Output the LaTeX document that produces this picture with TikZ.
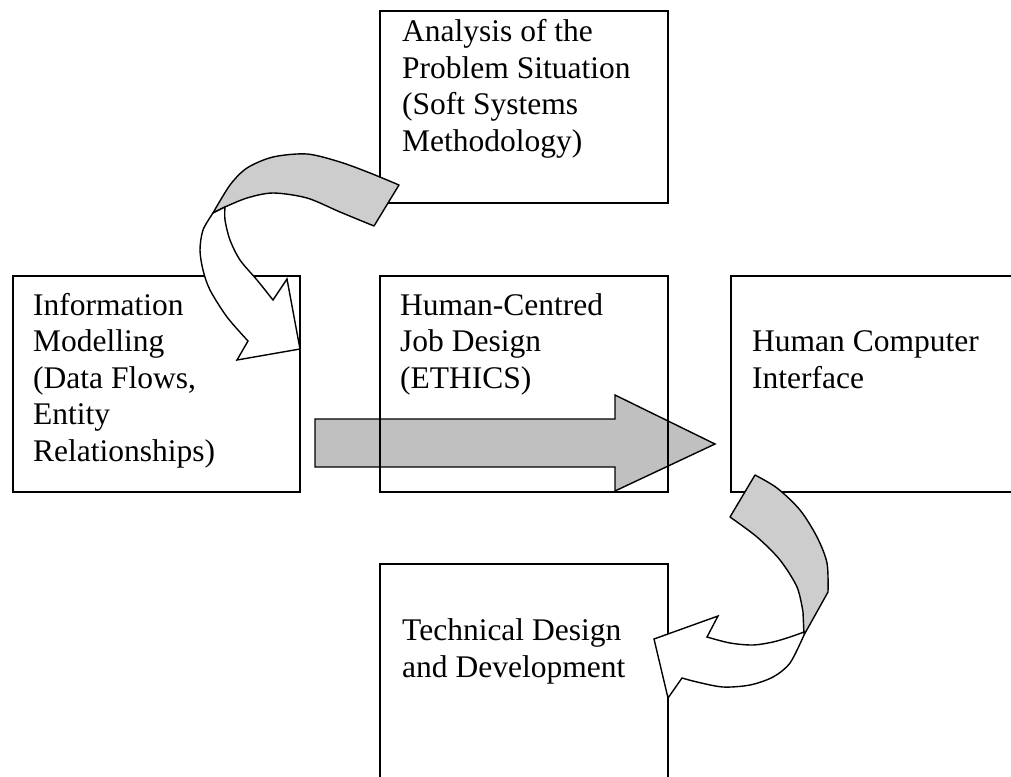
\documentclass[tikz,border=0pt]{standalone}
\usepackage{fontspec}
\setmainfont{Liberation Serif}
\definecolor{arrowgray}{HTML}{C0C0C0}
\definecolor{bandgray}{HTML}{CDCDCD}
\begin{document}
\begin{tikzpicture}[x=1pt,y=-1pt,
  box/.style={draw=black, line width=1.8pt, rectangle, anchor=north west, inner sep=0pt},
  txt/.style={anchor=base west, align=left, inner sep=0pt, font=\fontsize{31.5}{36.5}\selectfont},
  blockarrow/.style={draw=black, line width=1.4pt, line join=miter, fill=arrowgray},
  band/.style={draw=black, line width=1.4pt, line join=round, fill=bandgray},
  whiteband/.style={draw=black, line width=1.4pt, line join=miter, fill=white}]
\useasboundingbox (0,0) rectangle (1011,776);
\clip (0,0) rectangle (1011,776);

% straight block arrow (below the middle box outline)
\path[blockarrow] (315,419) -- (615,419) -- (615,395) -- (715,444) -- (615,491) -- (615,467) -- (315,467) -- cycle;

% boxes
\node[box, minimum width=288pt, minimum height=192pt] (A) at (379,10) {};
\node[box, minimum width=287pt, minimum height=216pt] (IM) at (12,275) {};
\node[box, minimum width=288pt, minimum height=216pt] (HJ) at (379,275) {};
\node[box, minimum width=300pt, minimum height=216pt] (HCI) at (730,275) {};
\node[box, minimum width=288pt, minimum height=240pt] (TD) at (379,563) {};

% texts (anchored at the baseline of their last line)
\node[txt] (tA) at (402,151) {Analysis of the\\Problem Situation\\(Soft Systems\\Methodology)};
\node[txt] (tIM) at (33,461) {Information\\Modelling\\(Data Flows,\\Entity\\Relationships)};
\node[txt] (tHJ) at (400,388) {Human-Centred\\Job Design\\(ETHICS)};
\node[txt] (tHCI) at (752,388) {Human Computer\\Interface};
\node[txt] (tTD) at (402,677) {Technical Design\\and Development};

% curved arrow 1 (Analysis -> Information Modelling)
\path[band] plot[smooth] coordinates {(399,185) (370,173) (340,162) (307,154) (273,157) (247,168) (230,185) (213,213)}
  -- plot[smooth] coordinates {(225,207) (247,198) (273,193) (307,198) (340,212) (374,226)} -- cycle;
\path[whiteband] plot[smooth] coordinates {(213,213) (203,230) (200,250) (203,270) (210,290) (227,317) (248,341)}
  -- (237,360) -- (300,349) -- (287,279) -- (273,300)
  -- plot[smooth] coordinates {(273,300) (257,280) (240,260) (230,240) (225,220) (225,207)} -- cycle;

% curved arrow 2 (Human Computer Interface -> Technical Design)
\path[band] plot[smooth] coordinates {(755,475) (777,488) (800,510) (817,537) (827,563) (828,592)}
  -- (804,635)
  -- plot[smooth] coordinates {(803,612) (797,587) (780,560) (757,537) (730,517)} -- cycle;
\path[whiteband] plot[smooth] coordinates {(804,635) (790,663) (773,677) (750,685) (723,687) (697,682) (682,678)}
  -- (668,698) -- (654,639) -- (718,616) -- (707,637)
  -- plot[smooth] coordinates {(707,637) (730,643) (753,645) (773,642) (790,637) (804,632)} -- cycle;
\end{tikzpicture}
\end{document}
